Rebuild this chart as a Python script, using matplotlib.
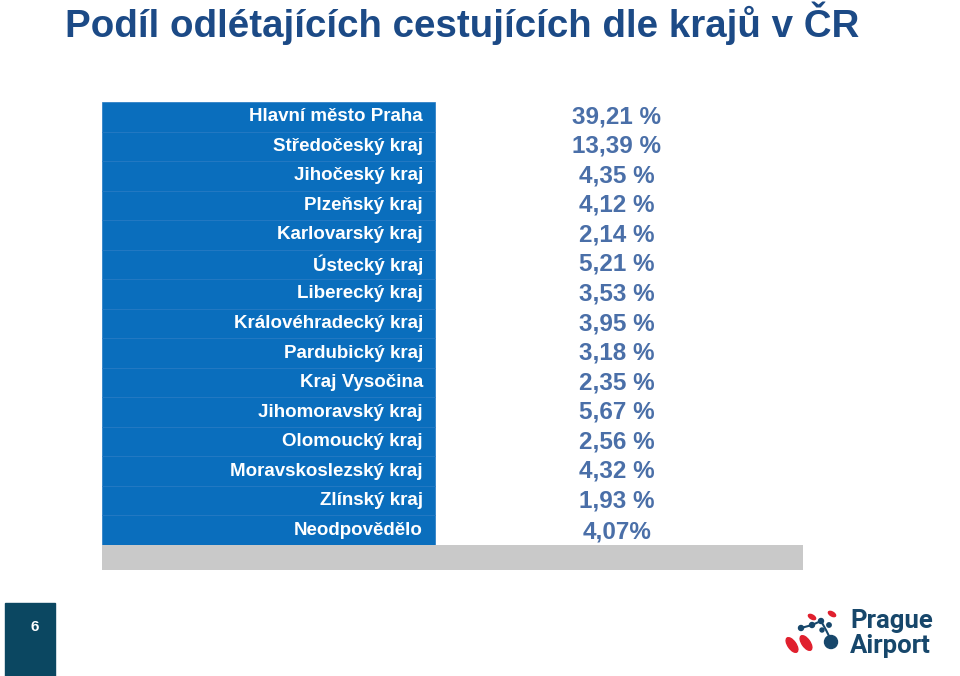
import numpy as np
import matplotlib.pyplot as plt
from matplotlib.patches import Rectangle, Ellipse, Circle

plt.rcParams["font.family"] = ["Liberation Sans", "DejaVu Sans"]

# Data
regions = ["Hlavní město Praha", "Středočeský kraj", "Jihočeský kraj", "Plzeňský kraj",
           "Karlovarský kraj", "Ústecký kraj", "Liberecký kraj", "Královéhradecký kraj",
           "Pardubický kraj", "Kraj Vysočina", "Jihomoravský kraj", "Olomoucký kraj",
           "Moravskoslezský kraj", "Zlínský kraj", "Neodpovědělo"]
shares = [39.21, 13.39, 4.35, 4.12, 2.14, 5.21, 3.53, 3.95,
          3.18, 2.35, 5.67, 2.56, 4.32, 1.93, 4.07]

title = "Podíl odlétajících cestujících dle krajů v ČR"
page_no = "6"

blue = "#0A6EBD"
value_color = "#4A6FA8"
title_color = "#1C4A86"
W, H = 960, 676

fig = plt.figure(figsize=(9.6, 6.76), dpi=100)

# Title
fig.text(65 / W, 1 - 23 / H, title, fontsize=27.7, fontweight="bold",
         color=title_color, ha="left", va="center")

# Table block: rows in data units, x in pixels
row_h = (545 - 102) / len(regions)
strip = (570 - 545) / row_h
ax = fig.add_axes([102 / W, 1 - 570 / H, (803 - 102) / W, (570 - 102) / H])
ax.set_xlim(0, 701)
ax.set_ylim(len(regions) + strip, 0)
ax.axis("off")

y = np.arange(len(regions)) + 0.5
ax.barh(y, 333, left=0, height=1, color=blue, edgecolor="#2277C2", linewidth=0.5)
ax.barh(len(regions) + strip / 2, 701, height=strip, color="#C9C9C9", linewidth=0)

for i, (name, v) in enumerate(zip(regions, shares)):
    ax.text(321, y[i], name, color="white", fontsize=13.5, fontweight="bold",
            ha="right", va="center")
    txt = f"{v:.2f}".replace(".", ",")
    txt = txt + ("%" if name == "Neodpovědělo" else " %")
    ax.text(515, y[i] + (0.05 if i == len(regions) - 1 else 0), txt,
            color=value_color, fontsize=17.5, fontweight="bold", ha="center", va="center")

# Page number box
fig.patches.append(Rectangle((5 / W, 0), 50 / W, (676 - 603) / H,
                             transform=fig.transFigure, color="#0B4761"))
fig.text(35 / W, 1 - 627 / H, page_no, color="white", fontsize=11,
         fontweight="bold", ha="center", va="center")

# Logo
lg = fig.add_axes([760 / W, 0, 200 / W, 76 / H])
lg.set_xlim(760, 960)
lg.set_ylim(676, 600)
lg.axis("off")
navy = "#17476B"
red = "#E0202E"
for cx, cy in [(792, 645), (806, 643)]:
    lg.add_patch(Ellipse((cx, cy), 8, 17, angle=-35, color=red))
for cx, cy in [(812, 617), (832, 614)]:
    lg.add_patch(Ellipse((cx, cy), 4, 8, angle=-60, color=red))
lg.add_patch(Circle((831, 642), 6.5, color=navy))
for cx, cy, r in [(801, 628, 2.5), (812, 625, 2.5), (821, 621, 2.5), (829, 625, 2.2), (822, 630, 2)]:
    lg.add_patch(Circle((cx, cy), r, color=navy))
lg.plot([801, 812, 821, 826, 831], [628, 625, 621, 630, 640], color=navy, lw=1.5)
fig.text(850 / W, 1 - 621 / H, "Prague", color=navy, fontsize=18.5,
         fontweight="bold", family="Roboto", ha="left", va="center")
fig.text(850 / W, 1 - 646 / H, "Airport", color=navy, fontsize=18.5,
         fontweight="bold", family="Roboto", ha="left", va="center")

fig.savefig("out.png", dpi=100)
